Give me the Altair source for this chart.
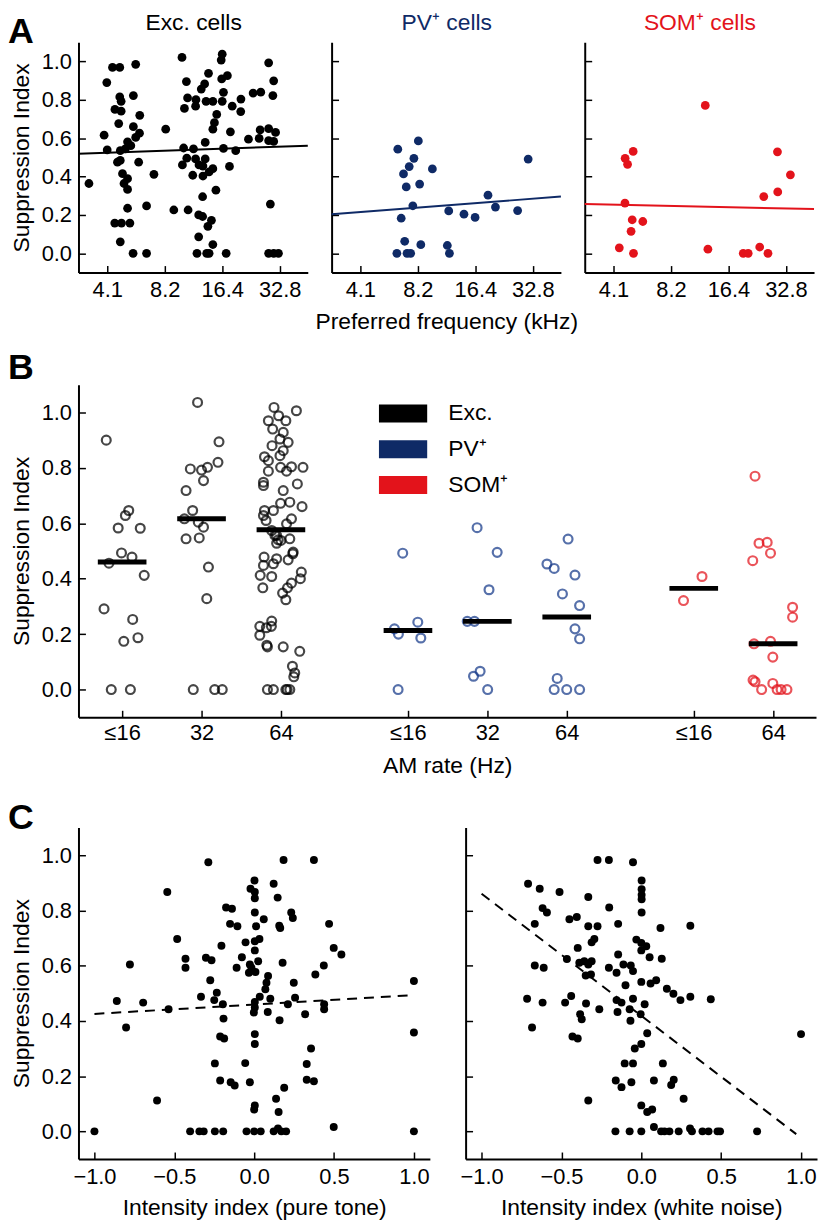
import altair as alt
import pandas as pd

FONT = "Liberation Sans"
BLACK = "#000000"
NAVY = "#0f2a66"
RED = "#e3131b"
PV_RING = "#163a8a"

# ---------------- Panel A data (preferred frequency kHz, suppression index) ----------------
exc_freq = [3.29, 3.95, 4.08, 4.10, 4.37, 4.77, 5.78, 4.77, 4.85, 4.50,
            4.85, 5.62, 6.07, 4.71, 5.62, 6.05, 5.78, 5.24, 5.45, 4.80,
            5.10, 4.64, 4.80, 5.99, 4.93, 7.20, 5.24, 5.02, 5.24, 5.24,
            6.59, 4.49, 4.87, 5.39, 4.80, 5.60, 6.59, 8.30, 9.15, 10.1,
            10.65, 10.8, 10.4, 11.95, 11.9, 12.74, 13.27, 13.9, 13.5, 14.65,
            15.35, 14.93, 14.65, 16.3, 16.2, 16.4, 17.45, 16.65, 16.4, 18.5,
            20.55, 20.5, 23.8, 26.1, 28.7, 30.5, 30.2, 18.1, 22.5, 25.6,
            25.9, 28.7, 31.2, 28.7, 30.5, 10.3, 11.6, 13.36, 16.65, 19.3,
            10.15, 10.7, 11.9, 12.4, 13.36, 13.0, 14.65, 14.0, 11.5, 13.0,
            17.9, 12.95, 15.2, 10.87, 12.35, 12.95, 14.4, 13.8, 12.35, 14.65,
            12.1, 13.6, 14.0, 17.2, 29.3, 28.7, 30.5, 32.3]
exc_si = [0.364, 0.616, 0.890, 0.539, 0.969, 0.969, 0.985, 0.815, 0.792, 0.750,
          0.741, 0.822, 0.719, 0.676, 0.660, 0.626, 0.604, 0.581, 0.561, 0.535,
          0.544, 0.475, 0.484, 0.475, 0.415, 0.412, 0.389, 0.364, 0.333, 0.235,
          0.247, 0.158, 0.158, 0.158, 0.060, 0.0, 0.0, 0.647, 0.226, 1.021,
          0.895, 0.810, 0.755, 0.801, 0.767, 0.856, 0.883, 0.938, 0.792, 0.792,
          0.724, 0.681, 0.647, 0.909, 1.007, 1.038, 0.926, 0.839, 0.792, 0.767,
          0.804, 0.739, 0.835, 0.840, 0.993, 0.899, 0.822, 0.633, 0.595, 0.599,
          0.643, 0.650, 0.630, 0.587, 0.583, 0.549, 0.544, 0.578, 0.547, 0.535,
          0.461, 0.496, 0.492, 0.461, 0.492, 0.455, 0.441, 0.424, 0.407, 0.403,
          0.453, 0.295, 0.329, 0.226, 0.200, 0.192, 0.172, 0.141, 0.086, 0.046,
          0.0, 0.0, 0.0, 0.0, 0.257, 0.0, 0.0, 0.0]

pv_freq = [6.44, 8.25, 7.82, 7.39, 6.90, 9.77, 7.13, 8.38, 7.72, 6.71,
           11.9, 14.3, 16.35, 19.1, 20.9, 27.3, 31.0, 7.00, 8.50, 11.7,
           6.37, 7.20, 7.52, 12.0]
pv_si = [0.543, 0.586, 0.495, 0.452, 0.414, 0.440, 0.346, 0.361, 0.248, 0.183,
         0.221, 0.204, 0.187, 0.303, 0.241, 0.223, 0.491, 0.063, 0.045, 0.041,
         0.0, 0.0, 0.0, 0.0]

som_freq = [12.4, 5.20, 4.72, 4.86, 4.71, 5.14, 5.84, 5.07, 4.40, 5.22,
            12.8, 29.6, 34.6, 29.7, 25.1, 19.6, 20.8, 23.9, 26.4]
som_si = [0.771, 0.531, 0.495, 0.464, 0.262, 0.175, 0.166, 0.115, 0.029, 0.0,
          0.022, 0.529, 0.409, 0.320, 0.296, 0.0, 0.0, 0.033, 0.0]

fit_freq = [2.9, 46.0]
exc_fit = [0.519, 0.561]
pv_fit = [0.204, 0.296]
som_fit = [0.257, 0.231]

A_XTICKS = [4.1, 8.2, 16.4, 32.8]

# ---------------- Panel B data ----------------
B_CELL = ["Exc.", "Exc.", "Exc.", "PV⁺", "PV⁺", "PV⁺", "SOM⁺", "SOM⁺"]
B_RATE = ["≤16", "32", "64", "≤16", "32", "64", "≤16", "64"]
b_jitter = [
    [-0.2, 0.083, 0.041, -0.05, 0.228, -0.008, 0.124, -0.166, 0.278, -0.228,
     0.133, 0.199, 0.021, -0.137, 0.104],
    [-0.05, 0.22, 0.207, -0.141, 0.0, 0.075, 0.025, -0.195, -0.112, -0.216,
     -0.041, 0.025, -0.195, -0.029, 0.087, 0.066, -0.104, 0.166, 0.261],
    [-0.087, 0.195, -0.029, -0.158, -0.104, 0.062, 0.029, -0.112, -0.012, 0.091,
     0.029, -0.012, -0.207, -0.158, -0.004, 0.133, 0.278, 0.071, -0.158, -0.22,
     -0.22, 0.207, 0.029, 0.112, -0.004, 0.266, -0.207, -0.095, -0.22, -0.187,
     0.133, 0.071, -0.116, -0.054, -0.033, 0.112, -0.054, 0.154, 0.091, -0.054,
     -0.212, -0.22, -0.095, -0.261, -0.116, 0.257, 0.245, 0.133, 0.083, 0.021,
     0.062, -0.228, -0.116, -0.266, -0.183, -0.12, -0.266, -0.178, -0.17, 0.029,
     0.237, 0.145, 0.174, 0.162, -0.17, -0.095, 0.062, 0.112, 0.079,
     -0.075, 0.0, 0.15],
    [-0.066, -0.17, -0.12, 0.124, 0.162, -0.124],
    [-0.129, 0.124, 0.021, -0.253, -0.162, -0.091, -0.174, 0.004],
    [0.017, -0.249, -0.158, 0.104, -0.054, 0.162, 0.104, 0.162, -0.12, -0.158, 0.0, 0.162],
    [0.104, -0.129],
    [-0.228, -0.178, -0.075, -0.033, -0.257, 0.245, 0.245, -0.241, -0.033, -0.004,
     -0.253, -0.228, -0.004, -0.145, 0.05, 0.1, 0.174],
]
b_si = [
    [0.9, 0.646, 0.628, 0.583, 0.582, 0.493, 0.478, 0.456, 0.412, 0.291,
     0.253, 0.187, 0.174, 0.0, 0.0],
    [1.036, 0.894, 0.82, 0.796, 0.792, 0.802, 0.754, 0.718, 0.646, 0.616,
     0.604, 0.586, 0.544, 0.547, 0.442, 0.328, 0.0, 0.0, 0.0],
    [1.018, 1.006, 0.988, 0.970, 0.94, 0.97, 0.928, 0.88, 0.904, 0.892,
     0.862, 0.844, 0.84, 0.826, 0.802, 0.804, 0.802, 0.788, 0.788, 0.748,
     0.736, 0.742, 0.718, 0.676, 0.672, 0.66, 0.646, 0.646, 0.628, 0.61,
     0.616, 0.598, 0.574, 0.556, 0.54, 0.544, 0.528, 0.496, 0.468, 0.472,
     0.478, 0.448, 0.454, 0.412, 0.408, 0.424, 0.4, 0.384, 0.367, 0.348,
     0.324, 0.367, 0.247, 0.228, 0.223, 0.228, 0.196, 0.16, 0.154, 0.154,
     0.138, 0.084, 0.06, 0.046, 0.0, 0.0, 0.0, 0.0, 0.0,
     0.556, 0.538, 0.49],
    [0.492, 0.219, 0.2, 0.243, 0.186, 0.0],
    [0.584, 0.495, 0.36, 0.246, 0.246, 0.066, 0.048, 0.0],
    [0.543, 0.453, 0.437, 0.413, 0.345, 0.303, 0.219, 0.183, 0.04, 0.0, 0.0, 0.0],
    [0.408, 0.321],
    [0.77, 0.528, 0.531, 0.492, 0.465, 0.297, 0.261, 0.165, 0.174, 0.117,
     0.034, 0.028, 0.022, 0.0, 0.0, 0.0, 0.0],
]
b_median = [0.46, 0.616, 0.577, 0.213, 0.246, 0.262, 0.365, 0.165]

# ---------------- Panel C data ----------------
pt_idx = [-1.0, -0.86, -0.695, -0.778, -0.802, -0.608, -0.544, -0.536, -0.482, -0.43,
          -0.43, -0.287, -0.302, -0.267, -0.275, -0.333, -0.205, -0.176, -0.139, -0.151,
          -0.105, -0.234, -0.25, -0.196, -0.192, -0.213, -0.188, -0.246, -0.213, -0.147,
          -0.122, -0.401, -0.343, -0.316, -0.246, -0.194, -0.11, -0.077, -0.054, -0.056,
          -0.027, -0.048, 0.002, -0.023, 0.004, 0.004, 0.004, 0.012, 0.004, 0.033,
          0.004, -0.027, 0.025, -0.017, -0.033, 0.008, 0.004, 0.004, -0.002, 0.004,
          0.004, 0.004, 0.0, 0.0, 0.041, 0.06, 0.035, 0.07, 0.077, 0.087,
          0.101, 0.085, 0.122, 0.147, 0.157, 0.163, 0.178, 0.159, 0.184, 0.188,
          0.137, 0.153, 0.122, 0.149, 0.17, 0.2, 0.211, 0.256, 0.248, 0.232,
          0.242, 0.319, 0.329, 0.356, 0.329, 0.374, 0.374, 0.383, 0.436, 0.438,
          0.438, 0.469, 0.498, 0.546, 0.498, 1.0, 1.0, 1.0]
pt_si = [0.0, 0.472, 0.466, 0.604, 0.376, 0.112, 0.866, 0.442, 0.696, 0.625,
         0.592, 0.974, 0.628, 0.619, 0.547, 0.487, 0.672, 0.81, 0.806, 0.751,
         0.742, 0.502, 0.475, 0.46, 0.408, 0.343, 0.336, 0.246, 0.184, 0.178,
         0.166, 0.0, 0.0, 0.0, 0.0, 0.0, 0.592, 0.63, 0.684, 0.247,
         0.178, 0.0, 0.908, 0.878, 0.866, 0.844, 0.792, 0.742, 0.688, 0.696,
         0.655, 0.604, 0.616, 0.592, 0.574, 0.577, 0.468, 0.448, 0.43, 0.352,
         0.316, 0.094, 0.079, 0.0, 0.0, 0.768, 0.487, 0.514, 0.538, 0.562,
         0.48, 0.432, 0.896, 0.846, 0.744, 0.736, 0.61, 0.402, 0.982, 0.158,
         0.118, 0.07, 0.0, 0.01, 0.0, 0.0, 0.46, 0.484, 0.538, 0.792,
         0.772, 0.424, 0.244, 0.3, 0.187, 0.181, 0.982, 0.568, 0.6, 0.46,
         0.442, 0.751, 0.664, 0.64, 0.016, 0.544, 0.358, 0.0]

wn_idx = [-0.709, -0.636, -0.512, -0.332, -0.618, -0.591, -0.667, -0.274, -0.203, -0.052,
          0.002, 0.002, 0.002, 0.002, 0.002, -0.201, -0.45, -0.404, -0.332, -0.274,
          -0.145, 0.12, 0.307, -0.311, -0.294, -0.398, -0.031, 0.0, 0.031, 0.0,
          -0.145, 0.052, 0.128, -0.466, -0.667, -0.611, -0.388, -0.357, -0.311, -0.332,
          -0.348, -0.315, -0.203, -0.155, -0.112, -0.066, -0.052, -0.099, 0.0, 0.058,
          0.093, 0.16, 0.201, 0.245, 0.307, 0.435, -0.715, -0.618, -0.477, -0.439,
          -0.346, -0.263, -0.155, -0.124, -0.052, -0.073, -0.004, 0.021, -0.149, -0.383,
          -0.373, -0.068, -0.684, -0.431, -0.398, 0.037, 0.0, -0.041, -0.104, -0.052,
          0.135, -0.16, -0.124, -0.062, 0.079, 0.203, 0.187, -0.332, 0.265, 0.0,
          0.037, 0.068, 1.0, -0.162, -0.073, 0.0, 0.079, 0.124, 0.145, 0.176,
          0.234, 0.305, 0.317, 0.383, 0.421, 0.477, 0.493, 0.725]
wn_si = [0.896, 0.878, 0.866, 0.848, 0.808, 0.792, 0.751, 0.982, 0.982, 0.974,
         0.908, 0.876, 0.856, 0.84, 0.792, 0.81, 0.768, 0.776, 0.742, 0.742,
         0.751, 0.736, 0.744, 0.684, 0.696, 0.664, 0.694, 0.682, 0.67, 0.655,
         0.64, 0.63, 0.625, 0.624, 0.6, 0.592, 0.61, 0.616, 0.616, 0.604,
         0.564, 0.568, 0.592, 0.574, 0.604, 0.6, 0.58, 0.529, 0.541, 0.535,
         0.547, 0.516, 0.498, 0.475, 0.487, 0.478, 0.48, 0.466, 0.466, 0.49,
         0.463, 0.442, 0.475, 0.466, 0.48, 0.442, 0.424, 0.46, 0.432, 0.424,
         0.406, 0.4, 0.376, 0.343, 0.336, 0.355, 0.316, 0.3, 0.246, 0.246,
         0.246, 0.184, 0.16, 0.178, 0.184, 0.187, 0.168, 0.112, 0.118, 0.094,
         0.07, 0.079, 0.352, 0.0, 0.0, 0.0, 0.016, 0.0, 0.0, 0.0,
         0.0, 0.01, 0.0, 0.0, 0.0, 0.0, 0.0, 0.0]

pt_fit_x = [-1.0, 1.0]
pt_fit_si = [0.425, 0.493]
wn_fit_x = [-1.0, 0.97]
wn_fit_si = [0.86, -0.01]

C_XTICKS = [-1.0, -0.5, 0.0, 0.5, 1.0]

# ---------------- layout constants ----------------
Y_TICKS = [0.0, 0.2, 0.4, 0.6, 0.8, 1.0]
Y_DOMAIN = [-0.1, 1.1]
B_POS = [0.0, 1.0, 2.0, 3.6, 4.6, 5.6, 7.2, 8.2]
TICK_IN = alt.ExprRef(expr="-7")


def y_axis(labels=True, title=True):
    if title:
        return alt.Axis(values=Y_TICKS, format=".1f", labels=labels, tickSize=TICK_IN,
                        labelPadding=14, title="Suppression Index", titlePadding=8)
    return alt.Axis(values=Y_TICKS, format=".1f", labels=labels, tickSize=TICK_IN,
                    labelPadding=14, title=None)


def y_enc(labels=True, title=True):
    return alt.Y("si:Q", scale=alt.Scale(domain=Y_DOMAIN, nice=False, zero=False),
                 axis=y_axis(labels, title))


def text_layer(t, x, y, size, weight, color, align):
    return alt.Chart(pd.DataFrame({"t": [t]})).mark_text(
        font=FONT, fontSize=size, fontWeight=weight, align=align,
        baseline="alphabetic", color=color
    ).encode(text="t:N", x=alt.value(x), y=alt.value(y))


def letter(t, dy):
    return text_layer(t, -71, dy, 36, "bold", "black", "left")


# ---------------- Panel A ----------------
def panel_a(freq, si, fit, color, title, first, xtitle):
    xaxis = alt.Axis(values=A_XTICKS, format=".1f", tickSize=TICK_IN, labelPadding=14,
                     title=xtitle if xtitle else None, titlePadding=10)
    x = alt.X("freq:Q", scale=alt.Scale(type="log", domain=[2.9, 46], nice=False),
              axis=xaxis)
    pts = alt.Chart(pd.DataFrame({"freq": freq, "si": si})).mark_circle(
        size=78, color=color, opacity=1).encode(x=x, y=y_enc(first, first))
    line = alt.Chart(pd.DataFrame({"freq": fit_freq, "si": fit})).mark_line(
        color=color, strokeWidth=2).encode(x="freq:Q", y="si:Q")
    layers = [pts, line, text_layer(title, 116, -12, 23, "normal", color, "center")]
    if first:
        layers.append(letter("A", 1))
    return alt.layer(*layers).properties(width=231, height=232)


a1 = panel_a(exc_freq, exc_si, exc_fit, BLACK, "Exc. cells", True, None)
a2 = panel_a(pv_freq, pv_si, pv_fit, NAVY, "PV⁺ cells", False, "Preferred frequency (kHz)")
a3 = panel_a(som_freq, som_si, som_fit, RED, "SOM⁺ cells", False, None)
row_a = alt.hconcat(a1, a2, a3, spacing=24, bounds="flush")

# ---------------- Panel B ----------------
rows = []
for g in range(len(B_CELL)):
    for j, v in zip(b_jitter[g], b_si[g]):
        rows.append({"cell": B_CELL[g], "rate": B_RATE[g], "x": B_POS[g] + j, "si": v})
df_b = pd.DataFrame(rows)
df_med = pd.DataFrame({"cell": B_CELL, "rate": B_RATE, "x": B_POS, "si": b_median})

label_expr = " : ".join(f"datum.value == {p} ? '{l}'" for p, l in zip(B_POS, B_RATE)) + " : ''"
CELLS = ["Exc.", "PV⁺", "SOM⁺"]
COLORS = [BLACK, NAVY, RED]

xb = alt.X("x:Q", scale=alt.Scale(domain=[-0.55, 8.74], nice=False, zero=False),
           axis=alt.Axis(values=B_POS, labelExpr=label_expr, tickSize=TICK_IN,
                         labelPadding=12, title="AM rate (Hz)", titlePadding=12))

# stroke scale derives its (alphabetical, identical) domain from data so that its
# disabled legend is not merged with the fill legend below
b_pts = alt.Chart(df_b).mark_point(shape="circle", filled=False, size=80,
                                   strokeWidth=2.2, opacity=0.72).encode(
    x=xb, y=y_enc(True, True),
    stroke=alt.Stroke("cell:N", scale=alt.Scale(range=[BLACK, PV_RING, RED]), legend=None))

# the legend of a concatenated chart is placed in the coordinates of the first panel
b_leg = alt.Chart(df_b).mark_point(filled=True, opacity=0).encode(
    x="x:Q", y="si:Q",
    fill=alt.Fill("cell:N", scale=alt.Scale(domain=CELLS, range=COLORS),
                  legend=alt.Legend(title=None, orient="none", legendX=315.5, legendY=362.5,
                                    symbolType="M-2.7,-1H2.7V1H-2.7Z", symbolSize=324,
                                    symbolOpacity=1, symbolStrokeWidth=0,
                                    labelFont=FONT, labelFontSize=23, labelColor="black",
                                    labelOffset=34, rowPadding=12, padding=0)))

b_med = alt.Chart(df_med).mark_tick(orient="horizontal", size=49, thickness=5,
                                    color="black", opacity=1).encode(x="x:Q", y="si:Q")

row_b = alt.layer(b_pts, b_leg, b_med, letter("B", -5.5)).properties(width=743, height=335)

# ---------------- Panel C ----------------
def panel_c(xv, si, fx, fsi, xtitle, first):
    xc = alt.X("ii:Q", scale=alt.Scale(domain=[-1.1, 1.1], nice=False, zero=False),
               axis=alt.Axis(values=C_XTICKS, format=".1f", tickSize=TICK_IN,
                             labelPadding=15, title=xtitle, titlePadding=9))
    pts = alt.Chart(pd.DataFrame({"ii": xv, "si": si})).mark_circle(
        size=64, color="black", opacity=1).encode(x=xc, y=y_enc(first, first))
    line = alt.Chart(pd.DataFrame({"ii": fx, "si": fsi})).mark_line(
        color="black", strokeWidth=2, strokeDash=[10, 7]).encode(x="ii:Q", y="si:Q")
    layers = [pts, line]
    if first:
        layers.append(letter("C", 2))
    return alt.layer(*layers).properties(width=354, height=334)


c1 = panel_c(pt_idx, pt_si, pt_fit_x, pt_fit_si, "Intensity index (pure tone)", True)
c2 = panel_c(wn_idx, wn_si, wn_fit_x, wn_fit_si, "Intensity index (white noise)", False)
row_c = alt.hconcat(c1, c2, spacing=36, bounds="flush")

lower = alt.vconcat(row_b, row_c, spacing=23)
chart = alt.vconcat(row_a, lower, spacing=17).properties(padding=0).configure_axis(
    labelFont=FONT, titleFont=FONT, labelFontSize=22, titleFontSize=23,
    titleFontWeight="normal", labelColor="black", titleColor="black",
    domainColor="black", domainWidth=2, tickColor="black", tickWidth=1.5, grid=False
).configure_view(stroke=None)

chart.save("out.html", embed_options={"renderer": "svg", "actions": False})
